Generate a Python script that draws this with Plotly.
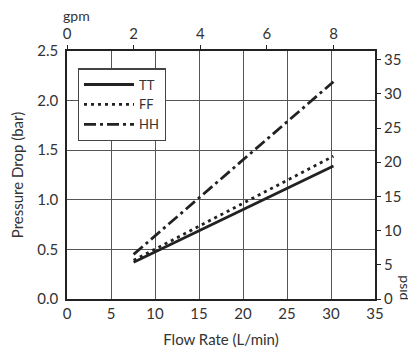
import plotly.graph_objects as go

flow_lpm = [7.57, 30.28]
tt_bar = [0.37, 1.34]
ff_bar = [0.39, 1.44]
hh_bar = [0.45, 2.19]

series_names = ["TT", "FF", "HH"]
lpm_ticks = [0, 5, 10, 15, 20, 25, 30, 35]
gpm_ticks = [0, 2, 4, 6, 8]
psi_ticks = [0, 5, 10, 15, 20, 25, 30, 35]
bar_ticks = [0.0, 0.5, 1.0, 1.5, 2.0, 2.5]

GPM_PER_LPM = 1 / 3.78541
PSI_PER_BAR = 14.5038

FONT = "Lato"
TXT = "#333333"
INK = "#222222"

fig = go.Figure()
styles = [("solid", tt_bar), ("3px,4px", ff_bar), ("12px,4px,3px,4px", hh_bar)]
for name, (dash, ys) in zip(series_names, styles):
    fig.add_trace(go.Scatter(x=flow_lpm, y=ys, mode="lines", name=name,
                             xaxis="x", yaxis="y",
                             line=dict(color=INK, width=2.8, dash=dash)))
# invisible trace to activate secondary axes
fig.add_trace(go.Scatter(x=[0], y=[0], xaxis="x2", yaxis="y2", mode="markers",
                         marker=dict(opacity=0), showlegend=False, hoverinfo="skip"))

fig.update_layout(
    width=408, height=340,
    margin=dict(l=59, r=41, t=43, b=49, autoexpand=False),
    paper_bgcolor="white", plot_bgcolor="white",
    font=dict(family=FONT, size=15, color=TXT),
    showlegend=True,
    legend=dict(x=0.035, y=0.93, xanchor="left", yanchor="top",
                bgcolor="white", bordercolor="#444", borderwidth=1.2,
                font=dict(size=13, color=TXT), tracegroupgap=0,
                itemwidth=50),
    xaxis=dict(range=[0, 35], tickvals=lpm_ticks, showgrid=True,
               gridcolor="#555", gridwidth=1, showline=True, linecolor=INK,
               linewidth=1.5, mirror=True, ticks="", zeroline=False,
               automargin=False,
               title=dict(text="Flow Rate (L/min)", standoff=14,
                          font=dict(size=15, color=TXT))),
    xaxis2=dict(range=[0, 35 * GPM_PER_LPM], tickvals=gpm_ticks,
                overlaying="x", side="top", showgrid=False, ticks="outside",
                ticklen=5, tickcolor=INK, zeroline=False, showline=False,
                automargin=False),
    yaxis=dict(range=[0, 2.5], tickvals=bar_ticks, tickformat=".1f",
               showgrid=True, gridcolor="#555", gridwidth=1, showline=True,
               linecolor=INK, linewidth=1.5, mirror=True, ticks="",
               zeroline=False, ticklabelstandoff=4, automargin=False,
               title=dict(text="Pressure Drop (bar)", standoff=14,
                          font=dict(size=15, color=TXT))),
    yaxis2=dict(range=[0, 2.5 * PSI_PER_BAR], tickvals=psi_ticks,
                overlaying="y", side="right", showgrid=False, ticks="outside",
                ticklen=5, tickcolor=INK, zeroline=False, showline=False,
                automargin=False),
    annotations=[
        dict(text="gpm", xref="paper", yref="paper", x=0.032, y=1.145,
             xanchor="center", yanchor="middle", showarrow=False,
             font=dict(size=14, color=TXT)),
        dict(text="psid", xref="paper", yref="paper", x=1.10, y=0.044,
             xanchor="center", yanchor="middle", showarrow=False,
             textangle=90, font=dict(size=14, color=TXT)),
    ],
)

fig.write_html("out.html")
